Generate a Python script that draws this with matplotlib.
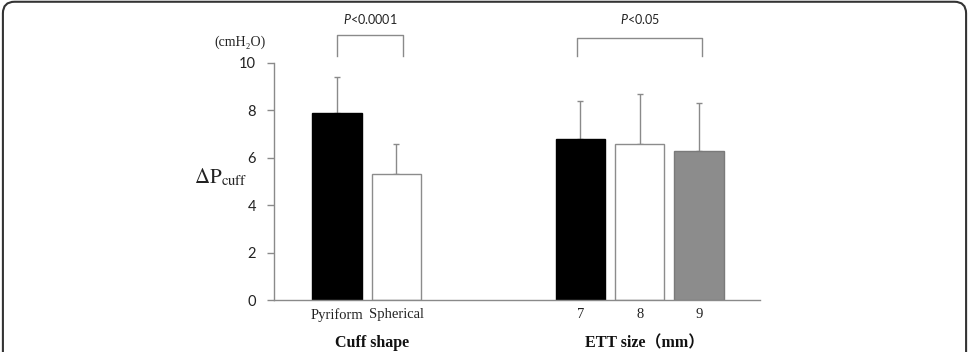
import matplotlib
matplotlib.use("Agg")
import matplotlib.pyplot as plt
from matplotlib.patches import FancyBboxPatch

plt.rcParams["mathtext.fontset"] = "custom"
plt.rcParams["mathtext.it"] = "Lato:italic"
plt.rcParams["mathtext.rm"] = "Lato"

# ---- data ----
categories = ["Pyriform", "Spherical", "7", "8", "9"]
means = [7.9, 5.3, 6.8, 6.6, 6.3]
sd_upper = [1.5, 1.3, 1.6, 2.1, 2.0]
group_labels = ["Cuff shape", "ETT size\uff08mm\uff09"]
p_labels = ["<0.0001", "<0.05"]
yticks = [0, 2, 4, 6, 8, 10]

fill_colors = ["#000000", "#ffffff", "#000000", "#ffffff", "#8c8c8c"]
edge_colors = ["#000000", "#8c8c8c", "#000000", "#8c8c8c", "#7a7a7a"]
positions = [1, 2, 5.1, 6.1, 7.1]

fig = plt.figure(figsize=(9.69, 3.52), dpi=100)
ax = fig.add_axes([274 / 969, 1 - 300 / 352, (760 - 274) / 969, (300 - 63) / 352])

ax.bar(positions, means, width=0.83, color=fill_colors, edgecolor=edge_colors,
       linewidth=1.0, zorder=2)
ax.errorbar(positions, means, yerr=[[0] * len(means), sd_upper], fmt="none",
            ecolor="#8a8a8a", elinewidth=1.0, capsize=2.5, capthick=1.0, zorder=1)

ax.set_xlim(-0.062, 8.128)
ax.set_ylim(0, 10)
ax.set_yticks(yticks)
ax.set_yticklabels([str(t) for t in yticks], family="Lato", fontsize=10.5, color="#222222")
ax.tick_params(axis="y", direction="out", length=5, width=1, color="#8a8a8a", pad=8)
ax.set_xticks(positions)
ax.set_xticklabels(categories, family="Liberation Serif", fontsize=10.5, color="#222222")
ax.tick_params(axis="x", length=0, pad=6)
for s in ["top", "right"]:
    ax.spines[s].set_visible(False)
for s in ["left", "bottom"]:
    ax.spines[s].set_color("#8a8a8a")
    ax.spines[s].set_linewidth(1.0)

# significance brackets
def bracket(x0, x1, ytop, ybot, label):
    ax.plot([x0, x0, x1, x1], [ybot, ytop, ytop, ybot], color="#8a8a8a",
            lw=1.0, clip_on=False)
    ax.text((x0 + x1) / 2, 11.86, r"$\mathit{P}$" + label, ha="center", va="center",
            fontsize=9, family="Lato", math_fontfamily="custom",
            color="#222222", clip_on=False)

bracket(positions[0], positions[1] + 0.12, 11.18, 10.3, p_labels[0])
bracket(positions[2] - 0.05, positions[4] + 0.05, 11.05, 10.3, p_labels[1])

# unit label and y label
ax.text(-0.635, 10.89, "(cmH\u2082O)", ha="center", va="center", fontsize=10,
        family=["Liberation Serif", "DejaVu Serif"], color="#222222", clip_on=False)
fig.text(221 / 969, 1 - 177 / 352, r"$\Delta\mathrm{P}_{\mathrm{cuff}}$", ha="center",
         va="center", fontsize=15, math_fontfamily="stix", color="#222222")

# group labels
fig.text(372 / 969, 1 - 343 / 352, group_labels[0], ha="center", va="center",
         fontsize=11.5, fontweight="bold", family="Liberation Serif", color="#111111")
fig.text(645 / 969, 1 - 343 / 352, group_labels[1], ha="center", va="center",
         fontsize=11.5, fontweight="bold",
         family=["Liberation Serif", "Noto Sans CJK JP"], color="#111111")

# panel border
border = FancyBboxPatch((0.003, -0.2), 0.994, 1.195,
                        boxstyle="round,pad=0,rounding_size=0.012",
                        transform=fig.transFigure, fill=False,
                        edgecolor="#333333", linewidth=1.5, mutation_aspect=969 / 352)
fig.patches.append(border)

fig.savefig("out.png", dpi=100)
